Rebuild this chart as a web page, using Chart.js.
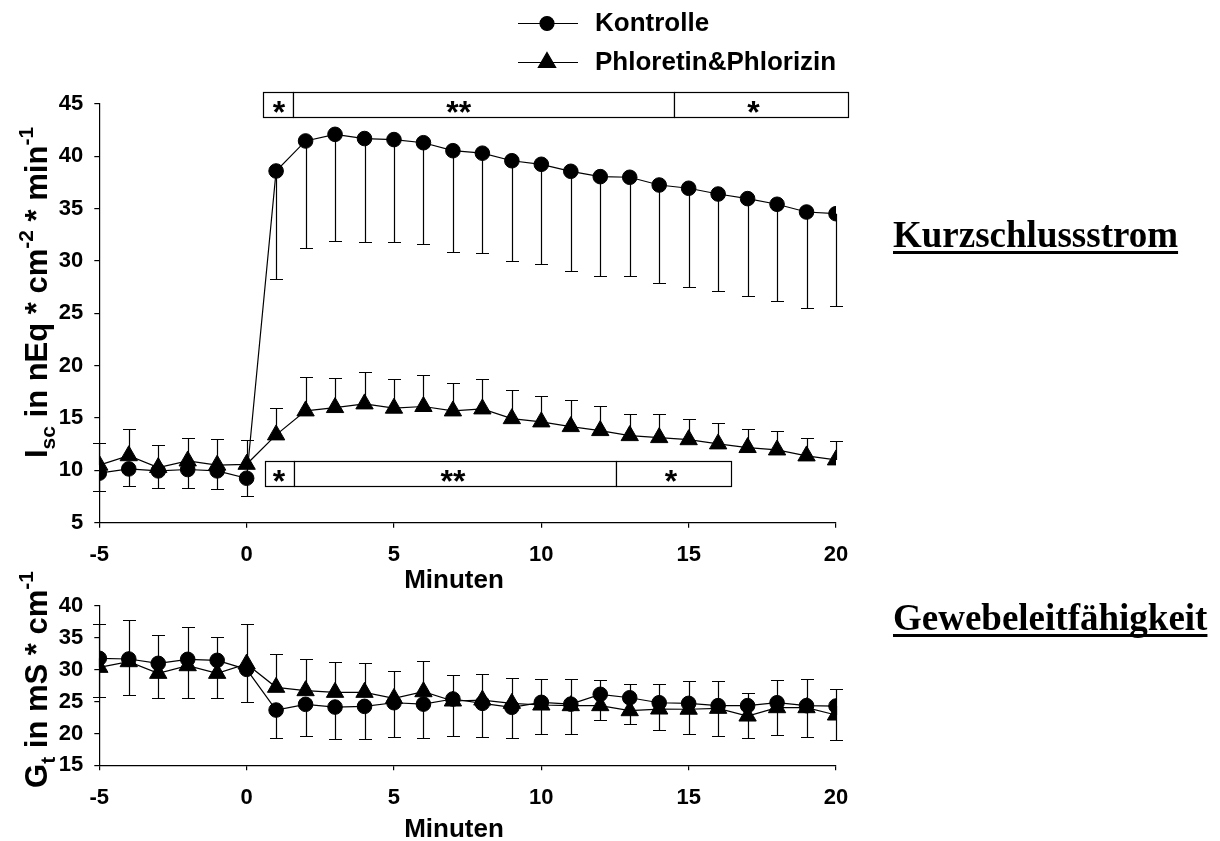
<!DOCTYPE html>
<html><head><meta charset="utf-8">
<script src="https://cdn.jsdelivr.net/npm/chart.js@4"></script>
<style>
html,body{margin:0;padding:0;background:#fff}
body{width:1220px;height:841px;overflow:hidden;position:relative}
#c1{position:absolute;left:0;top:0}
#c2{position:absolute;left:0;top:560px}
.side{position:absolute;font-family:"Liberation Serif","Times New Roman",serif;font-weight:bold;font-size:37px;line-height:37px;color:#000;
text-decoration:underline;text-decoration-thickness:3px;text-underline-offset:4px;text-decoration-skip-ink:none;white-space:nowrap}
</style></head><body>
<canvas id="c1" width="1220" height="600"></canvas>
<canvas id="c2" width="1220" height="281"></canvas>
<div class="side" style="left:893px;top:216px">Kurzschlussstrom</div>
<div class="side" style="left:893px;top:599px">Gewebeleitfähigkeit</div>
<script>
// ---------- data ----------
const minutes = [-5,-4,-3,-2,-1,0,1,2,3,4,5,6,7,8,9,10,11,12,13,14,15,16,17,18,19,20];
const seriesNames = ['Kontrolle','Phloretin&Phlorizin'];
const xTicks = [-5,0,5,10,15,20];
const iscTicks = [5,10,15,20,25,30,35,40,45];
const gtTicks = [15,20,25,30,35,40];
const xTitle = 'Minuten';
const iscTitle = [['I','n'],['sc','sub'],[' in nEq * cm','n'],['-2','sup'],[' * min','n'],['-1','sup']];
const gtTitle = [['G','n'],['t','sub'],[' in mS * cm','n'],['-1','sup']];

// Kurzschlussstrom (Isc)
const iscKontrolle = [9.73,10.14,9.95,10.08,9.95,9.25,38.6,41.47,42.1,41.7,41.6,41.3,40.54,40.3,39.58,39.24,38.57,38.06,38.0,37.26,36.95,36.4,35.96,35.42,34.68,34.52];
const iscKontrolleLow = [8.04,8.52,8.35,8.35,8.26,7.53,28.3,31.2,31.95,31.85,31.8,31.6,30.9,30.74,30.0,29.75,29.08,28.6,28.6,27.87,27.5,27.17,26.66,26.2,25.54,25.67];
const iscPhlor = [10.5,11.4,10.27,10.9,10.5,10.58,13.39,15.68,16.0,16.35,15.94,16.1,15.68,15.87,14.94,14.63,14.18,13.8,13.32,13.13,12.93,12.53,12.18,11.95,11.38,11.0];
const iscPhlorHigh = [12.65,13.98,12.46,13.13,12.98,12.9,16.0,18.9,18.8,19.43,18.71,19.14,18.32,18.77,17.71,17.1,16.76,16.13,15.42,15.39,14.89,14.5,13.93,13.77,13.1,12.78];

// significance boxes (Isc chart)
const sigUpperFrom = [0.565,1.583,14.5];
const sigUpperTo = [1.583,14.5,20.4];
const sigUpperLabel = ['*','**','*'];
const sigUpperLabelX = [1.1,7.2,17.2];
const sigUpperRange = [43.79,46.17];
const sigLowerFrom = [0.633,1.607,12.53];
const sigLowerTo = [1.607,12.53,16.43];
const sigLowerLabel = ['*','**','*'];
const sigLowerLabelX = [1.1,7.0,14.4];
const sigLowerRange = [8.49,10.9];

// Gewebeleitfähigkeit (Gt)
const gtKontrolle = [31.79,31.68,31.0,31.63,31.47,30.06,23.67,24.57,24.14,24.25,24.82,24.6,25.4,24.72,24.1,24.88,24.6,26.14,25.6,24.82,24.72,24.36,24.36,24.82,24.36,24.3];
const gtKontrolleLow = [25.76,26.03,25.5,25.5,25.5,24.98,19.33,19.64,19.17,19.17,19.48,19.33,19.64,19.48,19.28,19.95,19.86,22.15,21.48,20.54,19.95,19.59,19.33,19.75,19.48,18.96];
const gtPhlor = [30.37,31.26,29.43,30.63,29.43,30.9,27.24,26.71,26.45,26.45,25.5,26.55,25.09,25.24,24.72,24.46,24.36,24.36,23.57,23.83,23.8,23.94,22.73,24.04,24.04,22.89];
const gtPhlorHigh = [37.12,37.75,35.45,36.76,35.18,37.17,32.42,31.73,31.26,31.1,29.8,31.32,29.22,29.27,28.74,28.49,28.49,28.33,27.76,27.8,28.18,28.18,26.39,28.43,28.59,27.02];

// ---------- helpers ----------
const FAM = '"Liberation Sans", Arial, sans-serif';
Chart.defaults.font.family = FAM;
Chart.defaults.color = '#000';

const pts = vals => minutes.map((m,i)=>({x:m,y:vals[i]}));

const errorBars = {
  id:'errorBars',
  beforeDatasetsDraw(chart){
    const {ctx, scales:{x,y}} = chart;
    ctx.save(); ctx.strokeStyle='#000'; ctx.lineWidth=1.2;
    chart.data.datasets.forEach(ds=>{
      if(!ds.errEnd) return;
      ds.data.forEach((p,j)=>{
        const e = ds.errEnd[j]; if(e==null) return;
        const px = Math.round(x.getPixelForValue(p.x))+0.5, py = y.getPixelForValue(p.y), pe = Math.round(y.getPixelForValue(e))+0.5;
        ctx.beginPath(); ctx.moveTo(px,py); ctx.lineTo(px,pe);
        ctx.moveTo(px-6.5,pe); ctx.lineTo(px+6.5,pe); ctx.stroke();
      });
    });
    ctx.restore();
  }
};

function drawVerticalTitle(ctx, parts, baseX, cy){
  const big = 'bold 31px '+FAM, small = 'bold 21px '+FAM;
  let total = 0;
  const ws = parts.map(p=>{ctx.font = p[1]==='n'?big:small; const w = ctx.measureText(p[0]).width; total+=w; return w;});
  ctx.save(); ctx.translate(baseX, cy); ctx.rotate(-Math.PI/2);
  ctx.fillStyle='#000'; ctx.textBaseline='alphabetic'; ctx.textAlign='left';
  let xx = -total/2;
  parts.forEach((p,i)=>{
    ctx.font = p[1]==='n'?big:small;
    const dy = p[1]==='sub'?8:(p[1]==='sup'?-14:0);
    ctx.fillText(p[0], xx, dy); xx += ws[i];
  });
  ctx.restore();
}

function titlesPlugin(titleParts, titleCy, xTitleBaseline){
  return {
    id:'titles',
    afterDraw(chart){
      const {ctx} = chart;
      drawVerticalTitle(ctx, titleParts, 47, titleCy);
      ctx.save(); ctx.font='bold 26px '+FAM; ctx.fillStyle='#000'; ctx.textAlign='center'; ctx.textBaseline='alphabetic';
      ctx.fillText(xTitle, 454, xTitleBaseline); ctx.restore();
    }
  };
}

const sigBoxes = {
  id:'sigBoxes',
  afterDatasetsDraw(chart){
    const {ctx, scales:{x,y}} = chart;
    const draw = (from,to,labels,labelX,range)=>{
      const top = Math.round(y.getPixelForValue(range[1]))+0.5, bot = Math.round(y.getPixelForValue(range[0]))+0.5;
      from.forEach((f,i)=>{
        const l = Math.round(x.getPixelForValue(f))+0.5, r = Math.round(x.getPixelForValue(to[i]))+0.5;
        ctx.fillStyle='#fff'; ctx.fillRect(l,top,r-l,bot-top);
        ctx.strokeStyle='#000'; ctx.lineWidth=1.2; ctx.strokeRect(l,top,r-l,bot-top);
        ctx.fillStyle='#000'; ctx.font='bold 32px '+FAM; ctx.textAlign='center'; ctx.textBaseline='alphabetic';
        ctx.fillText(labels[i], x.getPixelForValue(labelX[i]), bot+5);
      });
    };
    ctx.save();
    draw(sigUpperFrom,sigUpperTo,sigUpperLabel,sigUpperLabelX,sigUpperRange);
    draw(sigLowerFrom,sigLowerTo,sigLowerLabel,sigLowerLabelX,sigLowerRange);
    ctx.restore();
  }
};

const legendPlugin = {
  id:'customLegend',
  afterDraw(chart){
    const {ctx} = chart;
    const rows = [{y:23.5, base:31, style:'circle', r:7},{y:62.5, base:70, style:'triangle', r:10}];
    ctx.save();
    chart.data.datasets.forEach((ds,i)=>{
      const row = rows[i];
      ctx.strokeStyle='#000'; ctx.lineWidth=1.2;
      ctx.beginPath(); ctx.moveTo(518,row.y); ctx.lineTo(578,row.y); ctx.stroke();
      ctx.fillStyle='#000'; ctx.strokeStyle='#000';
      Chart.helpers.drawPoint(ctx,{pointStyle:row.style, radius:row.r, rotation:0, borderWidth:1}, 547, row.y);
      ctx.font='bold 26px '+FAM; ctx.textAlign='left'; ctx.textBaseline='alphabetic';
      ctx.fillText(ds.label, 595, row.base);
    });
    ctx.restore();
  }
};

function makeScales(yMin,yMax,yTickVals,yWidth,xHeight){
  const common = {
    grid:{drawOnChartArea:false, drawTicks:true, tickLength:5, color:'#000', lineWidth:1.2},
    border:{display:true, color:'#000', width:1.2},
  };
  return {
    x:{type:'linear', min:-5, max:20, ...common,
      ticks:{font:{size:22, weight:'bold'}, color:'#000', padding:14, maxRotation:0, autoSkip:false},
      afterBuildTicks:s=>{s.ticks = xTicks.map(v=>({value:v}));},
      afterFit:s=>{s.height = xHeight;}
    },
    y:{type:'linear', min:yMin, max:yMax, ...common,
      ticks:{font:{size:22, weight:'bold'}, color:'#000', padding:11, autoSkip:false},
      afterBuildTicks:s=>{s.ticks = yTickVals.map(v=>({value:v}));},
      afterFit:s=>{s.width = yWidth;}
    }
  };
}

function makeDatasets(kVals,kErr,pVals,pErr){
  return [
    {label:seriesNames[0], data:pts(kVals), errEnd:kErr, borderColor:'#000', backgroundColor:'#000', borderWidth:1.2,
     pointStyle:'circle', pointRadius:7.3, pointHoverRadius:7.3, pointBorderWidth:1, showLine:true, tension:0},
    {label:seriesNames[1], data:pts(pVals), errEnd:pErr, borderColor:'#000', backgroundColor:'#000', borderWidth:1.2,
     pointStyle:'triangle', pointRadius:10, pointHoverRadius:10, pointBorderWidth:1, showLine:true, tension:0}
  ];
}

const baseOpts = {
  responsive:false, maintainAspectRatio:false, animation:false, devicePixelRatio:1,
  plugins:{legend:{display:false}, tooltip:{enabled:false}, title:{display:false}},
  events:[]
};

new Chart(document.getElementById('c1'), {
  type:'scatter',
  data:{datasets:makeDatasets(iscKontrolle,iscKontrolleLow,iscPhlor,iscPhlorHigh)},
  options:{...baseOpts,
    layout:{padding:{left:0, top:104, right:384, bottom:0}},
    scales:makeScales(5,45,iscTicks,99.3,600-522.7)
  },
  plugins:[errorBars, sigBoxes, legendPlugin, titlesPlugin(iscTitle, 292.5, 588)]
});

new Chart(document.getElementById('c2'), {
  type:'scatter',
  data:{datasets:makeDatasets(gtKontrolle,gtKontrolleLow,gtPhlor,gtPhlorHigh)},
  options:{...baseOpts,
    layout:{padding:{left:0, top:46, right:384, bottom:0}},
    scales:makeScales(15,40,gtTicks,99.3,281-205.3)
  },
  plugins:[errorBars, titlesPlugin(gtTitle, 119.5, 277)]
});
</script>
</body></html>
